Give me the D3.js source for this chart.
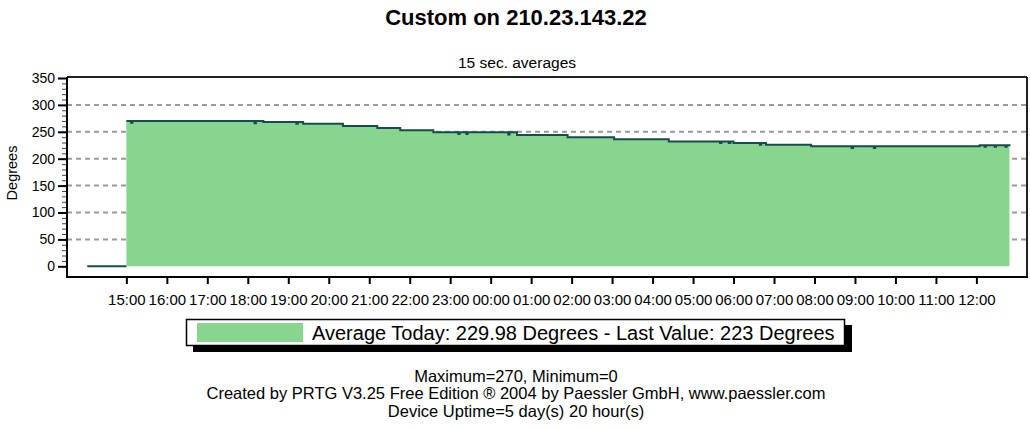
<!DOCTYPE html>
<html>
<head>
<meta charset="utf-8">
<script src="https://cdn.jsdelivr.net/npm/d3@7"></script>
<style>
  body { margin: 0; background: #fff; }
  svg { display: block; font-family: "Liberation Sans", Arial, sans-serif; }
</style>
</head>
<body>
<div id="chart"></div>
<script>
// readings (HH:MM, degrees), before 13:00 means next day
const zeroTimes = ["14:02", "15:00"];
const zeroValues = [0, 0];

const times = ["15:00", "15:07", "15:09", "18:10", "18:12", "18:23", "19:12", "19:14", "19:22",
  "20:21", "21:12", "21:46", "22:35", "23:12", "23:14", "23:24", "23:26", "00:26", "00:28",
  "00:39", "01:54", "03:03", "04:24", "05:40", "05:42", "05:53", "05:55", "06:00", "06:39",
  "06:41", "06:48", "07:55", "08:55", "08:57", "09:28", "09:30", "12:05", "12:12", "12:14",
  "12:27", "12:29", "12:43", "12:45", "12:49"];
const values = [270, 267, 270, 266, 270, 268, 265, 268, 265,
  261, 257, 253, 249, 246, 249, 246, 249, 245, 249,
  244, 240, 236, 232, 229, 232, 229, 232, 229, 226,
  229, 226, 223, 220, 223, 220, 223, 225, 222, 225,
  222, 225, 222, 225, 223];

const yTicks = [0, 50, 100, 150, 200, 250, 300, 350];
const gridValues = [50, 100, 150, 200, 250, 300];
const domainStart = "13:32";
const domainEnd = "13:15";

const titleText = "Custom on 210.23.143.22";
const subtitleText = "15 sec. averages";
const yLabel = "Degrees";
const legendText = "Average Today: 229.98 Degrees - Last Value: 223 Degrees";
const footerLines = [
  "Maximum=270, Minimum=0",
  "Created by PRTG V3.25 Free Edition \u00AE 2004 by Paessler GmbH, www.paessler.com",
  "Device Uptime=5 day(s) 20 hour(s)"
];

const lineColor = "#184c4c";
const fillColor = "#88d590";

// parse clock strings into dates, wrapping past midnight
const parseClock = (s, endSide) => {
  const [h, m] = s.split(":").map(Number);
  const day = (h < 13 || (endSide && h === 13)) ? 2 : 1;
  return new Date(2004, 0, day, h, m);
};

const zeroData = zeroTimes.map((t, i) => ({ t: parseClock(t), v: zeroValues[i] }));
const data = times.map((t, i) => ({ t: parseClock(t), v: values[i] }));

const W = 1030, H = 428;
const plot = { left: 67, right: 1027, top: 77, bottom: 277 };

const svg = d3.select("#chart").append("svg")
  .attr("width", W)
  .attr("height", H);

const x = d3.scaleTime()
  .domain([parseClock(domainStart), parseClock(domainEnd, true)])
  .range([plot.left, plot.right]);

const y = d3.scaleLinear()
  .domain([0, 350])
  .range([266.3, 78]);

// titles
svg.append("text")
  .attr("x", 516).attr("y", 25)
  .attr("text-anchor", "middle")
  .style("font-size", "22px").style("font-weight", "bold")
  .text(titleText);

svg.append("text")
  .attr("x", 517).attr("y", 68)
  .attr("text-anchor", "middle")
  .style("font-size", "15.5px")
  .text(subtitleText);

// dashed grid
svg.append("g")
  .selectAll("line")
  .data(gridValues)
  .join("line")
  .attr("x1", plot.left).attr("x2", plot.right)
  .attr("y1", (d) => y(d)).attr("y2", (d) => y(d))
  .attr("stroke", "#9a9a9a")
  .attr("stroke-width", 2)
  .attr("stroke-dasharray", "5,4");

// area
const area = d3.area()
  .x((d) => x(d.t))
  .y0(y(0))
  .y1((d) => y(d.v))
  .curve(d3.curveStepAfter);

svg.append("path")
  .datum(data)
  .attr("fill", fillColor)
  .attr("d", area);

const line = d3.line()
  .x((d) => x(d.t))
  .y((d) => y(d.v))
  .curve(d3.curveStepAfter);

svg.append("path")
  .datum(zeroData)
  .attr("fill", "none")
  .attr("stroke", lineColor)
  .attr("stroke-width", 2)
  .attr("d", line);

svg.append("path")
  .datum(data)
  .attr("fill", "none")
  .attr("stroke", lineColor)
  .attr("stroke-width", 2)
  .attr("d", line);

// frame
svg.append("line")
  .attr("x1", plot.left).attr("x2", plot.right)
  .attr("y1", plot.top).attr("y2", plot.top)
  .attr("stroke", "#222").attr("stroke-width", 2);
svg.append("line")
  .attr("x1", plot.right).attr("x2", plot.right)
  .attr("y1", plot.top).attr("y2", plot.bottom)
  .attr("stroke", "#222").attr("stroke-width", 2);

// y axis
const yMinor = d3.range(0, 351, 10);
svg.append("g")
  .attr("transform", `translate(${plot.left},0)`)
  .call(d3.axisLeft(y).tickValues(yMinor).tickSize(5).tickFormat(""))
  .call((g) => g.select(".domain").remove())
  .selectAll("line").attr("stroke", "#444");

const yAxis = svg.append("g")
  .attr("transform", `translate(${plot.left},0)`)
  .call(d3.axisLeft(y).tickValues(yTicks).tickSize(9).tickPadding(3));
yAxis.select(".domain").remove();
yAxis.selectAll("line").attr("stroke", "#000").attr("stroke-width", 2);
yAxis.selectAll("text")
  .style("font-size", "14px")
  .style("font-family", "'Liberation Sans', Arial, sans-serif")
  .attr("fill", "#000");

svg.append("text")
  .attr("transform", "translate(17,173) rotate(-90)")
  .attr("text-anchor", "middle")
  .style("font-size", "14.5px")
  .text(yLabel);

// x axis
const hourTicks = d3.timeHour.every(1)
  .range(parseClock("15:00"), d3.timeMinute.offset(parseClock("12:00"), 1));
const xAxis = svg.append("g")
  .attr("transform", `translate(0,${plot.bottom})`)
  .call(d3.axisBottom(x).tickValues(hourTicks).tickSize(7).tickFormat(d3.timeFormat("%H:%M")));
xAxis.select(".domain").remove();
xAxis.selectAll("line").attr("stroke", "#000").attr("stroke-width", 2);
xAxis.selectAll("text")
  .attr("y", 28).attr("dy", 0)
  .style("font-size", "15px")
  .style("font-family", "'Liberation Sans', Arial, sans-serif")
  .attr("fill", "#000");

// axis lines on top
svg.append("line")
  .attr("x1", plot.left).attr("x2", plot.left)
  .attr("y1", plot.top).attr("y2", plot.bottom + 1)
  .attr("stroke", "#000").attr("stroke-width", 2);
svg.append("line")
  .attr("x1", plot.left).attr("x2", plot.right + 1)
  .attr("y1", plot.bottom).attr("y2", plot.bottom)
  .attr("stroke", "#000").attr("stroke-width", 2);

// legend box with shadow
const lg = svg.append("g");
lg.append("rect")
  .attr("x", 193).attr("y", 325).attr("width", 659).attr("height", 27)
  .attr("fill", "#000");
lg.append("rect")
  .attr("x", 186.5).attr("y", 319.5).attr("width", 658).attr("height", 26)
  .attr("fill", "#fff").attr("stroke", "#000").attr("stroke-width", 1.5);
lg.append("rect")
  .attr("x", 197).attr("y", 323).attr("width", 106).attr("height", 19)
  .attr("fill", fillColor);
lg.append("text")
  .attr("x", 312).attr("y", 339.5)
  .style("font-size", "20px")
  .text(legendText);

// footer
svg.append("g")
  .selectAll("text")
  .data(footerLines)
  .join("text")
  .attr("x", 516)
  .attr("y", (d, i) => 381.5 + i * 17.5)
  .attr("text-anchor", "middle")
  .style("font-size", "16.5px")
  .text((d) => d);
</script>
</body>
</html>
